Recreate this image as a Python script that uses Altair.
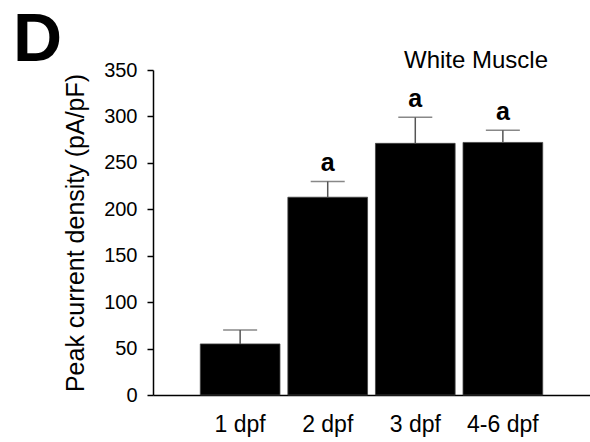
import altair as alt
import pandas as pd

categories = ["1 dpf", "2 dpf", "3 dpf", "4-6 dpf"]
means = [55, 213, 271, 272]
upper = [70, 230, 299, 285]
sig = ["", "a", "a", "a"]
y_ticks = [0, 50, 100, 150, 200, 250, 300, 350]

df = pd.DataFrame({"cat": categories, "mean": means, "upper": upper, "sig": sig})

FONT = "Liberation Sans"

xs = alt.Scale(domain=categories, paddingInner=0.09, paddingOuter=0.54)
ys = alt.Scale(domain=[0, 350], nice=False)

x_enc = alt.X("cat:N", scale=xs, sort=categories, axis=alt.Axis(
    title=None, labelAngle=0, ticks=False, labelFontSize=23, labelFont=FONT,
    labelColor="black", labelPadding=18, domainColor="black", domainWidth=1.5))

base = alt.Chart(df)

bars = base.mark_bar(color="black", stroke="#444", strokeWidth=0.8).encode(
    x=x_enc,
    y=alt.Y("mean:Q", scale=ys, axis=alt.Axis(
        title="Peak current density (pA/pF)", values=y_ticks, grid=False,
        tickSize=6, tickColor="black", tickWidth=1.5, domainColor="black", domainWidth=1.5,
        labelFontSize=20, labelFont=FONT, labelColor="black", labelPadding=10,
        titleFontSize=25, titleFont=FONT, titleFontWeight="normal", titleColor="black",
        titlePadding=15)),
)

err = base.mark_rule(color="#555", strokeWidth=1.5).encode(
    x=alt.X("cat:N", scale=xs, sort=categories),
    y=alt.Y("mean:Q", scale=ys),
    y2="upper:Q",
)

caps = base.mark_tick(color="#555", size=34, thickness=1.5).encode(
    x=alt.X("cat:N", scale=xs, sort=categories),
    y=alt.Y("upper:Q", scale=ys),
)

letters = base.mark_text(font=FONT, fontSize=25, fontWeight="bold", baseline="alphabetic",
                         dy=-10, color="black").encode(
    x=alt.X("cat:N", scale=xs, sort=categories),
    y=alt.Y("upper:Q", scale=ys),
    text="sig:N",
)

panel = alt.Chart(pd.DataFrame({"t": ["D"]})).mark_text(
    font=FONT, fontSize=68, fontWeight="bold", align="left", baseline="alphabetic", color="black"
).encode(x=alt.value(-140), y=alt.value(-9), text="t:N")

subtitle = alt.Chart(pd.DataFrame({"t": ["White Muscle"]})).mark_text(
    font=FONT, fontSize=24, align="center", baseline="alphabetic", color="black"
).encode(x=alt.value(323), y=alt.value(-2), text="t:N")

chart = alt.layer(bars, err, caps, letters, panel, subtitle).properties(
    width=437, height=325,
    autosize=alt.AutoSizeParams(type="none"),
    padding={"left": 153, "top": 70, "right": 0, "bottom": 47},
).configure(background="white", view=alt.ViewConfig(stroke=None))

chart.save("out.html", embed_options={"renderer": "svg", "actions": False})
